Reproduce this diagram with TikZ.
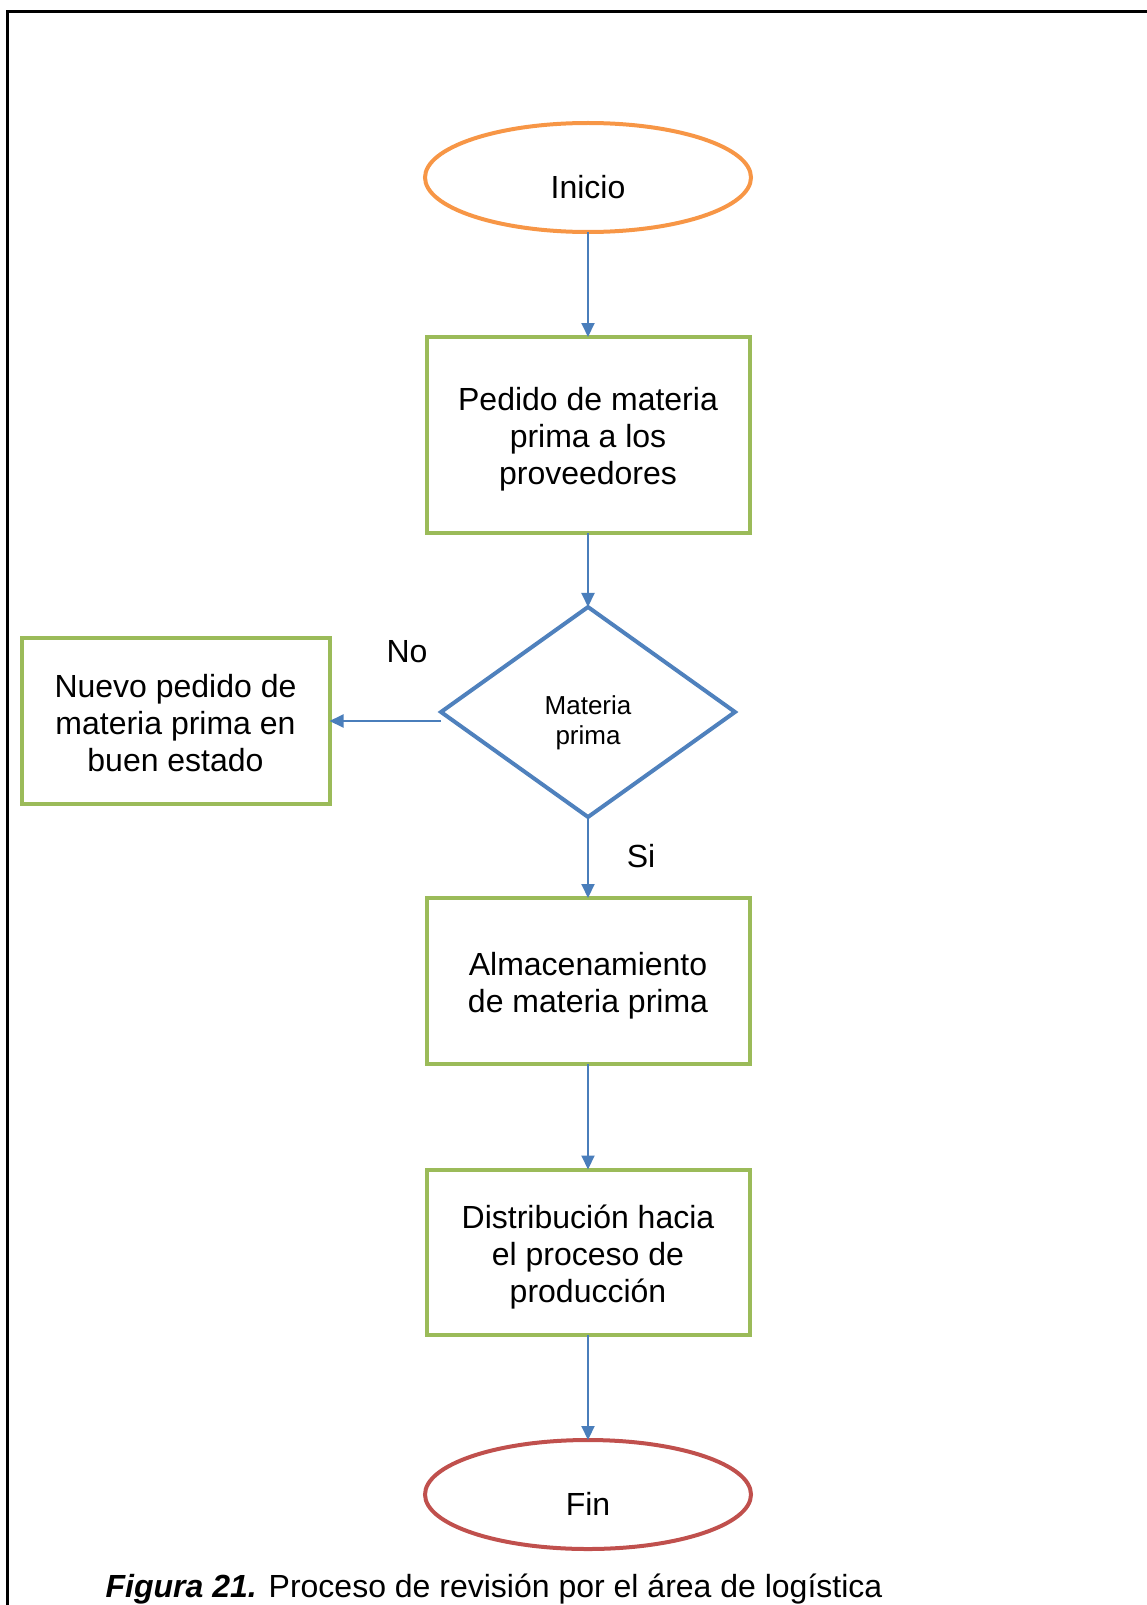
\documentclass[tikz,border=0pt]{standalone}
\usepackage{fontspec}
\setmainfont{Liberation Sans}
\usetikzlibrary{arrows.meta,positioning,shapes.geometric}
\definecolor{inicioC}{HTML}{F79646}
\definecolor{finC}{HTML}{C0504D}
\definecolor{boxC}{HTML}{9BBB59}
\definecolor{decC}{HTML}{4F81BD}
\definecolor{arrC}{HTML}{4A7EBB}

\begin{document}
\begin{tikzpicture}[node distance=5mm,outer sep=0pt,
term/.style={ellipse,draw=#1,line width=2pt,minimum width=163pt,minimum height=54.5pt,
text height=20.8pt,text depth=0pt,font=\fontsize{16}{18.5}\selectfont},
box/.style={draw=boxC,line width=2pt,align=center,minimum width=161.5pt,
font=\fontsize{16}{18.5}\selectfont},
dec/.style={diamond,draw=decC,line width=2pt,minimum width=147pt,minimum height=105pt,
inner sep=0pt,align=center,text height=35.3pt,font=\fontsize{13}{15}\selectfont},
lbl/.style={font=\fontsize{16}{18.5}\selectfont},
arr/.style={-{Triangle[length=7pt,width=6.5pt]},draw=arrC,line width=1pt}]
\useasboundingbox (0,0) rectangle (573pt,-802.5pt);
\draw[line width=1.5pt] (3.5pt,-6pt) rectangle (640pt,-860pt);
\node[term=inicioC] (ini) at (294pt,-88.75pt) {Inicio};
\node[box,minimum height=98pt,text height=52.4pt,below=52.5pt of ini] (ped) {Pedido de materia\\prima a los\\proveedores};
\node[dec,below=37pt of ped] (mat) {Materia\\prima};
\node[box,minimum width=154pt,minimum height=82.75pt,text height=50.4pt,left=55.75pt of mat,yshift=-4.5pt] (nue) {Nuevo pedido de\\materia prima en\\buen estado};
\node[box,minimum height=83pt,text height=35pt,below=40.5pt of mat] (alm) {Almacenamiento\\de materia prima};
\node[box,minimum height=82.75pt,text height=54pt,below=52.75pt of alm] (dis) {Distribución hacia\\el proceso de\\producción};
\node[term=finC,below=52.5pt of dis] (fin) {Fin};
\node[lbl] (no) at ([shift={(-17pt,30pt)}]mat.west) {No};
\node[lbl] (si) at ([shift={(26.5pt,-19.5pt)}]mat.south) {Si};
\node[lbl,anchor=west] (cap) at (49.5pt,-794.5pt) {{\bfseries\itshape Figura 21.} Proceso de revisión por el área de logística};
\draw[arr] (ini)--(ped);\draw[arr] (ped)--(mat);
\draw[arr] (mat.west |- nue.east)--(nue.east);
\draw[arr] (mat)--(alm);\draw[arr] (alm)--(dis);\draw[arr] (dis)--(fin);
\end{tikzpicture}
\end{document}
